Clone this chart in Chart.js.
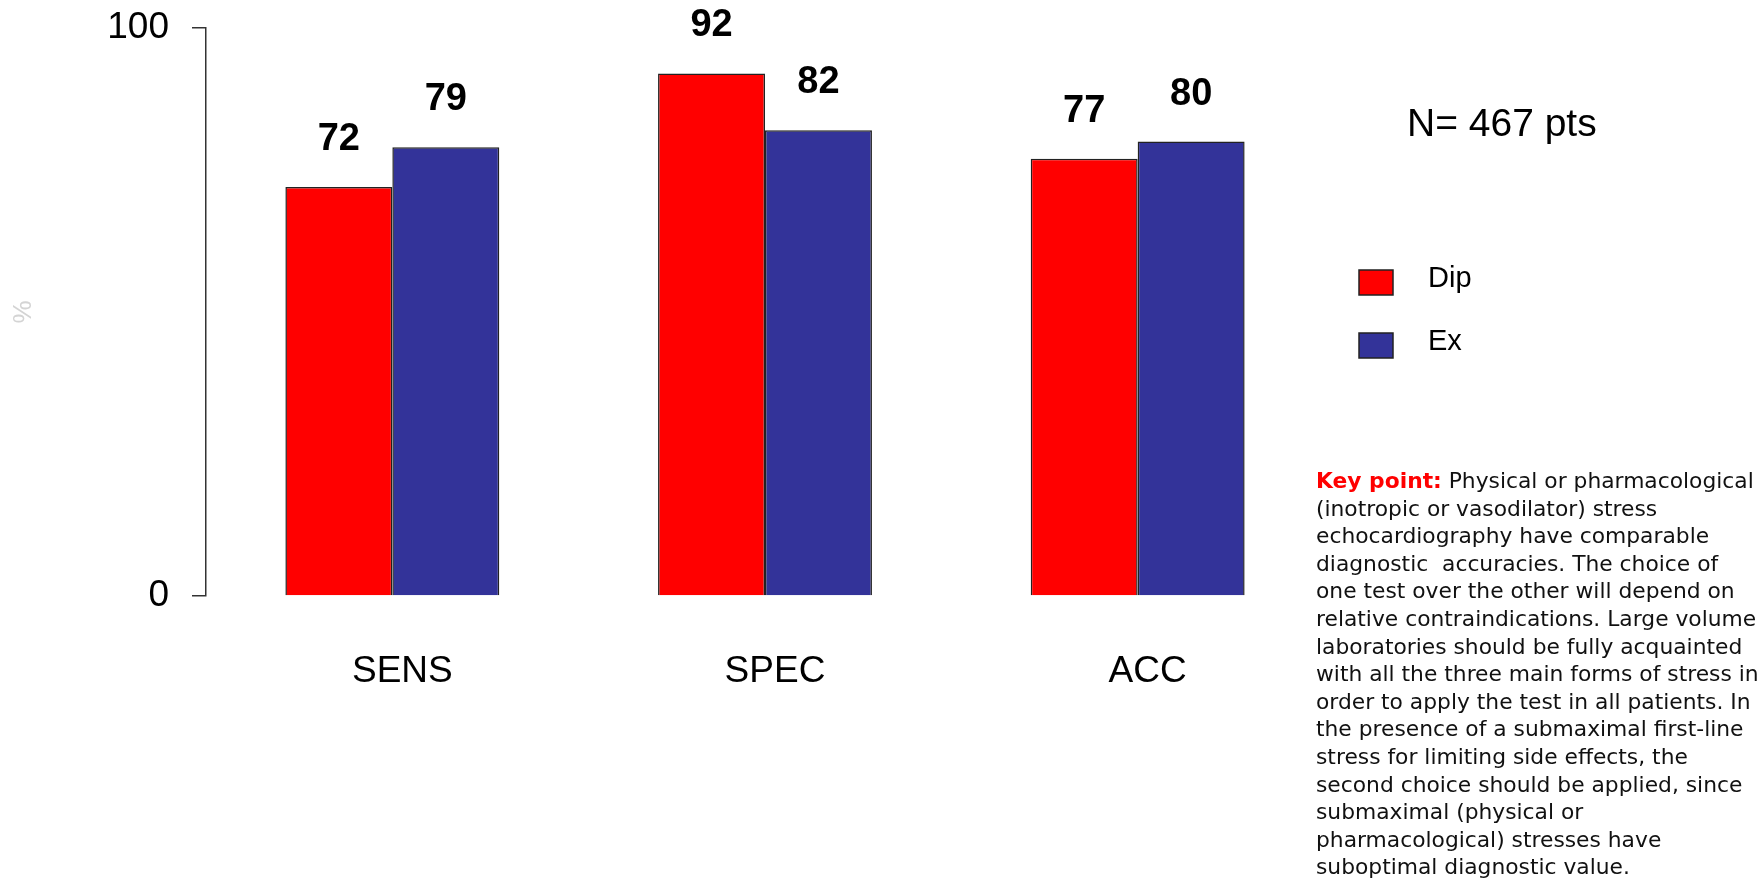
<!DOCTYPE html>
<html>
<head>
<meta charset="utf-8">
<script src="https://cdn.jsdelivr.net/npm/chart.js@4"></script>
<style>
  body { margin: 0; background: #fff; }
  #wrap { position: relative; width: 1762px; height: 879px; }
  #graph1 { position: absolute; left: 0; top: 0; }
  .note { position: absolute; color: #000; }
  #npts { left: 1407px; top: 103px; font: 39px/39px "Liberation Sans", Arial, sans-serif; white-space: pre; }
  #keypoint { left: 1316px; top: 467px; font: 21.8px/27.6px "DejaVu Sans", Verdana, sans-serif; white-space: pre; color: #111; }
  #keypoint b { color: #ff0000; }
</style>
</head>
<body>
<div id="wrap">
  <canvas id="graph1" width="1762" height="879"></canvas>
  <div class="note" id="npts">N= 467 pts</div>
  <div class="note" id="keypoint"><b>Key point:</b> Physical or pharmacological
(inotropic or vasodilator) stress
echocardiography have comparable
diagnostic  accuracies. The choice of
one test over the other will depend on
relative contraindications. Large volume
laboratories should be fully acquainted
with all the three main forms of stress in
order to apply the test in all patients. In
the presence of a submaximal first-line
stress for limiting side effects, the
second choice should be applied, since
submaximal (physical or
pharmacological) stresses have
suboptimal diagnostic value.</div>
</div>
<script>
const labels = ['SENS', 'SPEC', 'ACC'];
const dipValues = [72, 92, 77];
const exValues = [79, 82, 80];
const yTicks = [0, 100];

const font = '"Liberation Sans", Arial, sans-serif';

// value labels over the bars + the legend on the right
const extras = {
    id: 'extras',
    afterDatasetsDraw(chart) {
        const ctx = chart.ctx;
        ctx.save();
        ctx.fillStyle = '#000';
        ctx.textAlign = 'center';
        ctx.textBaseline = 'alphabetic';
        ctx.font = 'bold 38px ' + font;
        chart.data.datasets.forEach((ds, i) => {
            chart.getDatasetMeta(i).data.forEach((bar, j) => {
                ctx.fillText(ds.data[j], bar.x, bar.y - 37);
            });
        });

        // legend
        ctx.textAlign = 'left';
        ctx.textBaseline = 'middle';
        ctx.font = '29px ' + font;
        const boxY = [270, 333];
        chart.data.datasets.forEach((ds, i) => {
            ctx.fillStyle = ds.backgroundColor;
            ctx.fillRect(1359, boxY[i], 34, 25);
            ctx.strokeStyle = '#222';
            ctx.lineWidth = 1.5;
            ctx.strokeRect(1359, boxY[i], 34, 25);
            ctx.fillStyle = '#000';
            ctx.fillText(ds.label, 1428, boxY[i] + 9);
        });
        ctx.restore();
    }
};

const data = {
    labels: labels,
    datasets: [{
        label: 'Dip',
        backgroundColor: '#ff0000',
        borderColor: '#222',
        borderWidth: 1.5,
        data: dipValues
    }, {
        label: 'Ex',
        backgroundColor: '#333399',
        borderColor: '#222',
        borderWidth: 1.5,
        data: exValues
    }]
};

const config = {
    type: 'bar',
    data: data,
    plugins: [extras],
    options: {
        responsive: false,
        animation: false,
        layout: { padding: { top: 28, right: 438, left: 0, bottom: 0 } },
        datasets: { bar: { barPercentage: 1, categoryPercentage: 0.574 } },
        plugins: {
            legend: { display: false },
            tooltip: { enabled: false }
        },
        scales: {
            x: {
                grid: { display: false, drawTicks: false },
                border: { display: false },
                ticks: { color: '#000', font: { family: font, size: 37 }, padding: 54, labelOffset: 10 },
                afterFit(scale) {
                    scale.height = 283;
                    scale.paddingLeft = 0;
                    scale.paddingRight = 0;
                }
            },
            y: {
                min: 0,
                max: 100,
                afterBuildTicks(scale) { scale.ticks = yTicks.map(v => ({ value: v })); },
                grid: { drawOnChartArea: false, tickLength: 14, color: '#333', lineWidth: 1.5 },
                border: { display: true, color: '#333', width: 1.5 },
                ticks: { color: '#000', font: { family: font, size: 37 }, padding: 23 },
                title: { display: true, text: '%', color: '#d4d4d4', font: { family: font, size: 26 }, padding: 8 },
                afterFit(scale) {
                    scale.width = 206;
                    scale.paddingTop = 0;
                    scale.paddingBottom = 0;
                }
            }
        }
    }
};

new Chart(document.querySelector('#graph1'), config);
</script>
</body>
</html>
